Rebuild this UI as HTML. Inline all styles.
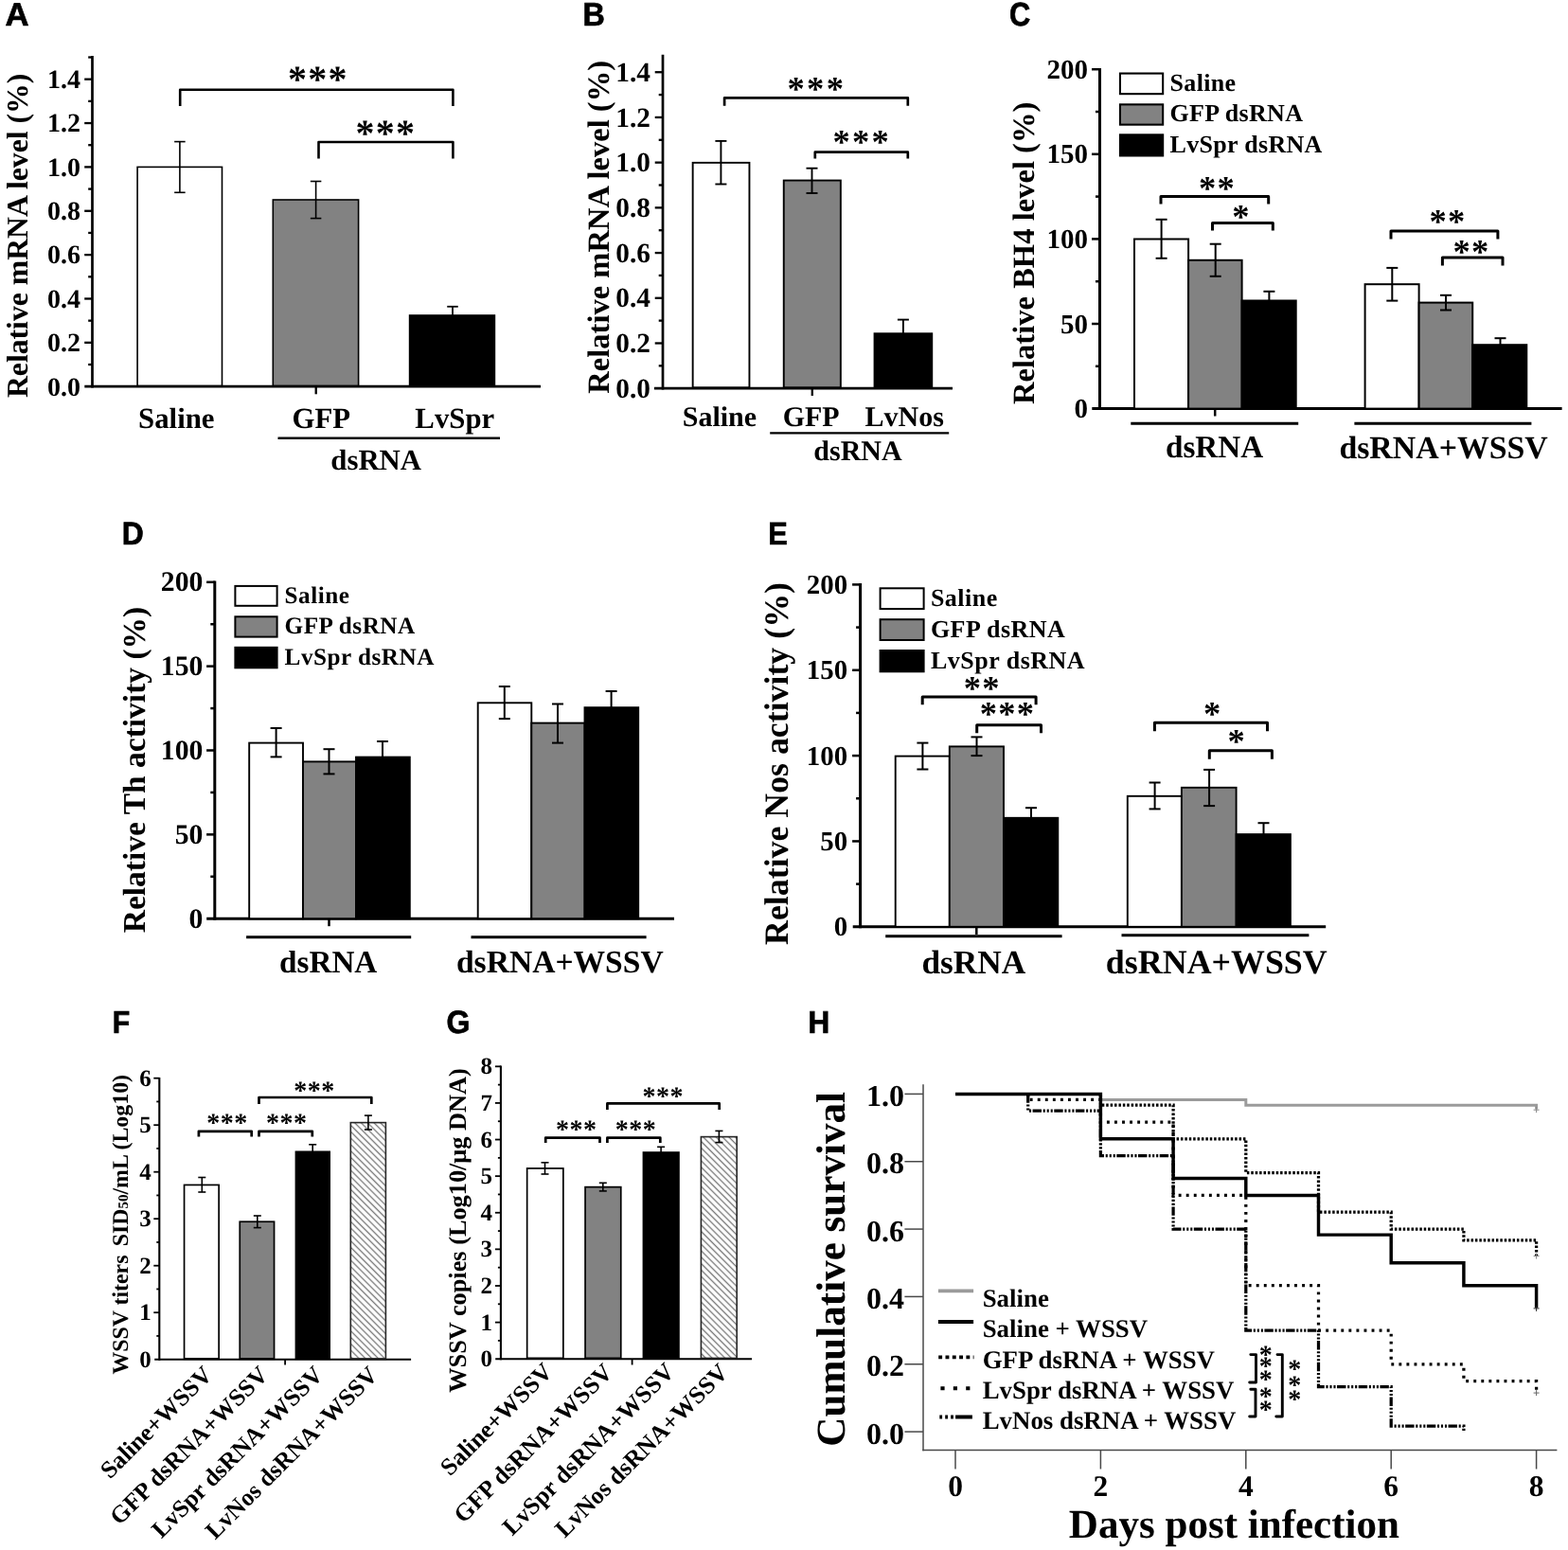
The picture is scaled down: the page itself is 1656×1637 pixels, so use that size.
<!DOCTYPE html>
<html lang="en">
<head>
<meta charset="utf-8">
<title>Figure: LvSpr / LvNos dsRNA knockdown and WSSV infection</title>
<style>
html,body{margin:0;padding:0;background:#fff;}
body{width:1656px;height:1637px;overflow:hidden;}
svg{display:block;}
text{fill:#000;text-rendering:geometricPrecision;}
.ser{font-family:"Liberation Serif","DejaVu Serif",serif;font-weight:bold;}
.sr{font-family:"Liberation Serif","DejaVu Serif",serif;font-weight:bold;}
.san{font-family:"Liberation Sans","DejaVu Sans",sans-serif;font-weight:bold;}
</style>
</head>
<body>
<svg width="1656" height="1637" viewBox="0 0 1656 1637" role="img" aria-label="Eight-panel figure (A-H): relative mRNA levels, BH4 level, Th and Nos activity, WSSV titers and copies, and cumulative survival after dsRNA treatment">
<defs>
<pattern id="hat" width="4.8" height="4.8" patternUnits="userSpaceOnUse" patternTransform="rotate(45)">
<rect width="4.8" height="4.8" fill="#fff"/>
<line x1="0" y1="2.4" x2="4.8" y2="2.4" stroke="#757575" stroke-width="1.3"/>
</pattern>
</defs>
<rect x="0" y="0" width="1656" height="1637" fill="#fff"/>
<text class="san" font-size="34.45" stroke="#000" stroke-width="0.7" stroke-linejoin="miter" transform="translate(5.58 27.25) scale(1.0080 1)">A</text>
<line x1="97.5" y1="59" x2="97.5" y2="409.55" stroke="#000" stroke-width="2.7"/>
<line x1="89.2" y1="361.84" x2="97.5" y2="361.84" stroke="#000" stroke-width="2.3"/>
<line x1="89.2" y1="315.48" x2="97.5" y2="315.48" stroke="#000" stroke-width="2.3"/>
<line x1="89.2" y1="269.12" x2="97.5" y2="269.12" stroke="#000" stroke-width="2.3"/>
<line x1="89.2" y1="222.76" x2="97.5" y2="222.76" stroke="#000" stroke-width="2.3"/>
<line x1="89.2" y1="176.4" x2="97.5" y2="176.4" stroke="#000" stroke-width="2.3"/>
<line x1="89.2" y1="130.04" x2="97.5" y2="130.04" stroke="#000" stroke-width="2.3"/>
<line x1="89.2" y1="83.68" x2="97.5" y2="83.68" stroke="#000" stroke-width="2.3"/>
<line x1="93.2" y1="385.02" x2="97.5" y2="385.02" stroke="#000" stroke-width="2.3"/>
<line x1="93.2" y1="338.66" x2="97.5" y2="338.66" stroke="#000" stroke-width="2.3"/>
<line x1="93.2" y1="292.3" x2="97.5" y2="292.3" stroke="#000" stroke-width="2.3"/>
<line x1="93.2" y1="245.94" x2="97.5" y2="245.94" stroke="#000" stroke-width="2.3"/>
<line x1="93.2" y1="199.58" x2="97.5" y2="199.58" stroke="#000" stroke-width="2.3"/>
<line x1="93.2" y1="153.22" x2="97.5" y2="153.22" stroke="#000" stroke-width="2.3"/>
<line x1="93.2" y1="106.86" x2="97.5" y2="106.86" stroke="#000" stroke-width="2.3"/>
<line x1="93.2" y1="60.5" x2="97.5" y2="60.5" stroke="#000" stroke-width="2.3"/>
<line x1="89.3" y1="408.2" x2="571" y2="408.2" stroke="#000" stroke-width="2.7"/>
<line x1="333.7" y1="408.2" x2="333.7" y2="416.3" stroke="#000" stroke-width="2.3"/>
<text class="ser" x="85" y="417.5" font-size="28" text-anchor="end">0.0</text>
<text class="ser" x="85" y="371.14" font-size="28" text-anchor="end">0.2</text>
<text class="ser" x="85" y="324.78" font-size="28" text-anchor="end">0.4</text>
<text class="ser" x="85" y="278.42" font-size="28" text-anchor="end">0.6</text>
<text class="ser" x="85" y="232.06" font-size="28" text-anchor="end">0.8</text>
<text class="ser" x="85" y="185.7" font-size="28" text-anchor="end">1.0</text>
<text class="ser" x="85" y="139.34" font-size="28" text-anchor="end">1.2</text>
<text class="ser" x="85" y="92.98" font-size="28" text-anchor="end">1.4</text>
<text class="ser" x="29.5" y="248.9" font-size="31.7" text-anchor="middle" transform="rotate(-90 29.5 248.9)">Relative mRNA level (%)</text>
<rect x="145.1" y="176.4" width="89.4" height="231" fill="#fff" stroke="#000" stroke-width="1.6"/>
<rect x="288.3" y="211" width="90.3" height="196.4" fill="#828282" stroke="#000" stroke-width="1.6"/>
<rect x="432.6" y="333" width="89.8" height="74.4" fill="#000" stroke="#000" stroke-width="1.6"/>
<line x1="189.9" y1="149.6" x2="189.9" y2="203.3" stroke="#000" stroke-width="1.6"/>
<line x1="184.15" y1="149.6" x2="195.65" y2="149.6" stroke="#000" stroke-width="1.6"/>
<line x1="184.15" y1="203.3" x2="195.65" y2="203.3" stroke="#000" stroke-width="1.6"/>
<line x1="333.6" y1="191.5" x2="333.6" y2="230.6" stroke="#000" stroke-width="1.6"/>
<line x1="327.85" y1="191.5" x2="339.35" y2="191.5" stroke="#000" stroke-width="1.6"/>
<line x1="327.85" y1="230.6" x2="339.35" y2="230.6" stroke="#000" stroke-width="1.6"/>
<line x1="478" y1="323.8" x2="478" y2="333" stroke="#000" stroke-width="1.8"/>
<line x1="472.25" y1="323.8" x2="483.75" y2="323.8" stroke="#000" stroke-width="1.8"/>
<path d="M190.2 112 V94.7 H478.4 V112" fill="none" stroke="#000" stroke-width="2.6" stroke-linejoin="round"/>
<path d="M336.5 167.4 V150 H478.4 V167.4" fill="none" stroke="#000" stroke-width="2.6" stroke-linejoin="round"/>
<text class="sr" x="304" y="97.38" font-size="40" letter-spacing="1.3">***</text>
<text class="sr" x="375.5" y="154.18" font-size="40" letter-spacing="1.3">***</text>
<text class="ser" x="186.3" y="451.7" font-size="30.8" text-anchor="middle">Saline</text>
<text class="ser" x="339.3" y="451.7" font-size="30.8" text-anchor="middle">GFP</text>
<text class="ser" x="480.3" y="451.7" font-size="30.8" text-anchor="middle">LvSpr</text>
<line x1="293.5" y1="462.8" x2="528" y2="462.8" stroke="#000" stroke-width="2.4"/>
<text class="ser" x="397.2" y="495.8" font-size="30.8" text-anchor="middle">dsRNA</text>
<text class="san" font-size="34.59" stroke="#000" stroke-width="0.7" stroke-linejoin="miter" transform="translate(615.39 27.35) scale(0.9336 1)">B</text>
<line x1="700" y1="57.8" x2="700" y2="411.55" stroke="#000" stroke-width="2.7"/>
<line x1="691.7" y1="362.49" x2="700" y2="362.49" stroke="#000" stroke-width="2.3"/>
<line x1="691.7" y1="314.78" x2="700" y2="314.78" stroke="#000" stroke-width="2.3"/>
<line x1="691.7" y1="267.07" x2="700" y2="267.07" stroke="#000" stroke-width="2.3"/>
<line x1="691.7" y1="219.36" x2="700" y2="219.36" stroke="#000" stroke-width="2.3"/>
<line x1="691.7" y1="171.65" x2="700" y2="171.65" stroke="#000" stroke-width="2.3"/>
<line x1="691.7" y1="123.94" x2="700" y2="123.94" stroke="#000" stroke-width="2.3"/>
<line x1="691.7" y1="76.23" x2="700" y2="76.23" stroke="#000" stroke-width="2.3"/>
<line x1="695.7" y1="386.34" x2="700" y2="386.34" stroke="#000" stroke-width="2.3"/>
<line x1="695.7" y1="338.63" x2="700" y2="338.63" stroke="#000" stroke-width="2.3"/>
<line x1="695.7" y1="290.92" x2="700" y2="290.92" stroke="#000" stroke-width="2.3"/>
<line x1="695.7" y1="243.21" x2="700" y2="243.21" stroke="#000" stroke-width="2.3"/>
<line x1="695.7" y1="195.5" x2="700" y2="195.5" stroke="#000" stroke-width="2.3"/>
<line x1="695.7" y1="147.79" x2="700" y2="147.79" stroke="#000" stroke-width="2.3"/>
<line x1="695.7" y1="100.08" x2="700" y2="100.08" stroke="#000" stroke-width="2.3"/>
<line x1="690.9" y1="410.2" x2="1006" y2="410.2" stroke="#000" stroke-width="2.7"/>
<line x1="857.8" y1="410.2" x2="857.8" y2="418" stroke="#000" stroke-width="2.3"/>
<text class="ser" x="686.9" y="419.8" font-size="29.3" text-anchor="end">0.0</text>
<text class="ser" x="686.9" y="372.09" font-size="29.3" text-anchor="end">0.2</text>
<text class="ser" x="686.9" y="324.38" font-size="29.3" text-anchor="end">0.4</text>
<text class="ser" x="686.9" y="276.67" font-size="29.3" text-anchor="end">0.6</text>
<text class="ser" x="686.9" y="228.96" font-size="29.3" text-anchor="end">0.8</text>
<text class="ser" x="686.9" y="181.25" font-size="29.3" text-anchor="end">1.0</text>
<text class="ser" x="686.9" y="133.54" font-size="29.3" text-anchor="end">1.2</text>
<text class="ser" x="686.9" y="85.83" font-size="29.3" text-anchor="end">1.4</text>
<text class="ser" x="642.6" y="239.8" font-size="32.6" text-anchor="middle" transform="rotate(-90 642.6 239.8)">Relative mRNA level (%)</text>
<rect x="731.65" y="171.85" width="59.8" height="237.4" fill="#fff" stroke="#000" stroke-width="1.9"/>
<rect x="827.75" y="190.55" width="60.1" height="218.7" fill="#828282" stroke="#000" stroke-width="1.9"/>
<rect x="923.55" y="352.25" width="60.7" height="57" fill="#000" stroke="#000" stroke-width="1.9"/>
<line x1="761.4" y1="148.9" x2="761.4" y2="194.5" stroke="#000" stroke-width="1.9"/>
<line x1="755.4" y1="148.9" x2="767.4" y2="148.9" stroke="#000" stroke-width="1.9"/>
<line x1="755.4" y1="194.5" x2="767.4" y2="194.5" stroke="#000" stroke-width="1.9"/>
<line x1="857.5" y1="177.7" x2="857.5" y2="204" stroke="#000" stroke-width="1.9"/>
<line x1="851.5" y1="177.7" x2="863.5" y2="177.7" stroke="#000" stroke-width="1.9"/>
<line x1="851.5" y1="204" x2="863.5" y2="204" stroke="#000" stroke-width="1.9"/>
<line x1="953.9" y1="337.6" x2="953.9" y2="352" stroke="#000" stroke-width="1.9"/>
<line x1="947.9" y1="337.6" x2="959.9" y2="337.6" stroke="#000" stroke-width="1.9"/>
<path d="M765.1 111.8 V103.4 H958.8 V111.8" fill="none" stroke="#000" stroke-width="2.7" stroke-linejoin="round"/>
<path d="M860.8 167.5 V160.7 H958.8 V167.5" fill="none" stroke="#000" stroke-width="2.7" stroke-linejoin="round"/>
<text class="sr" x="831.48" y="105.66" font-size="36.5" letter-spacing="2.35">***</text>
<text class="sr" x="879.38" y="161.56" font-size="36.5" letter-spacing="2.35">***</text>
<text class="ser" x="759.9" y="449.5" font-size="30" text-anchor="middle">Saline</text>
<text class="ser" x="856.7" y="449.5" font-size="30" text-anchor="middle">GFP</text>
<text class="ser" x="955.2" y="449.5" font-size="30" text-anchor="middle">LvNos</text>
<line x1="813.2" y1="457.4" x2="1002.2" y2="457.4" stroke="#000" stroke-width="2.4"/>
<text class="ser" x="906" y="486" font-size="30" text-anchor="middle">dsRNA</text>
<text class="san" font-size="34.89" stroke="#000" stroke-width="0.7" stroke-linejoin="miter" transform="translate(1066.08 27.2) scale(0.8853 1)">C</text>
<line x1="1161.5" y1="72" x2="1161.5" y2="433.1" stroke="#000" stroke-width="3"/>
<line x1="1153" y1="342" x2="1161.5" y2="342" stroke="#000" stroke-width="2.5"/>
<line x1="1153" y1="252.4" x2="1161.5" y2="252.4" stroke="#000" stroke-width="2.5"/>
<line x1="1153" y1="162.8" x2="1161.5" y2="162.8" stroke="#000" stroke-width="2.5"/>
<line x1="1153" y1="73.2" x2="1161.5" y2="73.2" stroke="#000" stroke-width="2.5"/>
<line x1="1157" y1="386.8" x2="1161.5" y2="386.8" stroke="#000" stroke-width="2.5"/>
<line x1="1157" y1="297.2" x2="1161.5" y2="297.2" stroke="#000" stroke-width="2.5"/>
<line x1="1157" y1="207.6" x2="1161.5" y2="207.6" stroke="#000" stroke-width="2.5"/>
<line x1="1157" y1="118" x2="1161.5" y2="118" stroke="#000" stroke-width="2.5"/>
<line x1="1153.3" y1="431.6" x2="1649.6" y2="431.6" stroke="#000" stroke-width="3"/>
<line x1="1283.2" y1="431.6" x2="1283.2" y2="439.5" stroke="#000" stroke-width="2.5"/>
<text class="ser" x="1149" y="441.1" font-size="29" text-anchor="end">0</text>
<text class="ser" x="1149" y="351.5" font-size="29" text-anchor="end">50</text>
<text class="ser" x="1149" y="261.9" font-size="29" text-anchor="end">100</text>
<text class="ser" x="1149" y="172.3" font-size="29" text-anchor="end">150</text>
<text class="ser" x="1149" y="82.7" font-size="29" text-anchor="end">200</text>
<text class="ser" x="1092" y="267.3" font-size="32.6" text-anchor="middle" transform="rotate(-90 1092 267.3)">Relative BH4 level (%)</text>
<rect x="1198" y="252.5" width="57.1" height="179.1" fill="#fff" stroke="#000" stroke-width="2"/>
<rect x="1255.1" y="274.8" width="56.5" height="156.8" fill="#828282" stroke="#000" stroke-width="2"/>
<rect x="1311.6" y="317.5" width="57.1" height="114.1" fill="#000" stroke="#000" stroke-width="2"/>
<rect x="1441.6" y="300.2" width="57" height="131.4" fill="#fff" stroke="#000" stroke-width="2"/>
<rect x="1498.6" y="319.6" width="56.6" height="112" fill="#828282" stroke="#000" stroke-width="2"/>
<rect x="1555.2" y="364.2" width="57.1" height="67.4" fill="#000" stroke="#000" stroke-width="2"/>
<line x1="1226.6" y1="231.8" x2="1226.6" y2="272.8" stroke="#000" stroke-width="2"/>
<line x1="1220.6" y1="231.8" x2="1232.6" y2="231.8" stroke="#000" stroke-width="2"/>
<line x1="1220.6" y1="272.8" x2="1232.6" y2="272.8" stroke="#000" stroke-width="2"/>
<line x1="1283.7" y1="257.7" x2="1283.7" y2="291.8" stroke="#000" stroke-width="2"/>
<line x1="1277.7" y1="257.7" x2="1289.7" y2="257.7" stroke="#000" stroke-width="2"/>
<line x1="1277.7" y1="291.8" x2="1289.7" y2="291.8" stroke="#000" stroke-width="2"/>
<line x1="1340.4" y1="307.8" x2="1340.4" y2="318" stroke="#000" stroke-width="2"/>
<line x1="1334.4" y1="307.8" x2="1346.4" y2="307.8" stroke="#000" stroke-width="2"/>
<line x1="1470.3" y1="282.9" x2="1470.3" y2="317.6" stroke="#000" stroke-width="2"/>
<line x1="1464.3" y1="282.9" x2="1476.3" y2="282.9" stroke="#000" stroke-width="2"/>
<line x1="1464.3" y1="317.6" x2="1476.3" y2="317.6" stroke="#000" stroke-width="2"/>
<line x1="1527" y1="311.8" x2="1527" y2="327.5" stroke="#000" stroke-width="2"/>
<line x1="1521" y1="311.8" x2="1533" y2="311.8" stroke="#000" stroke-width="2"/>
<line x1="1521" y1="327.5" x2="1533" y2="327.5" stroke="#000" stroke-width="2"/>
<line x1="1584.5" y1="357.2" x2="1584.5" y2="365" stroke="#000" stroke-width="2"/>
<line x1="1578.5" y1="357.2" x2="1590.5" y2="357.2" stroke="#000" stroke-width="2"/>
<path d="M1226 215.6 V207.4 H1339.7 V215.6" fill="none" stroke="#000" stroke-width="3" stroke-linejoin="round"/>
<path d="M1280.5 243.6 V235.5 H1344.3 V243.6" fill="none" stroke="#000" stroke-width="3" stroke-linejoin="round"/>
<path d="M1469 252.4 V244.1 H1581.9 V252.4" fill="none" stroke="#000" stroke-width="3" stroke-linejoin="round"/>
<path d="M1523.4 280.4 V272 H1587 V280.4" fill="none" stroke="#000" stroke-width="3" stroke-linejoin="round"/>
<text class="sr" x="1266.12" y="211.16" font-size="36.5" letter-spacing="1.25">**</text>
<text class="sr" x="1301.17" y="240.86" font-size="36.5">*</text>
<text class="sr" x="1509.62" y="246.46" font-size="36.5" letter-spacing="1.25">**</text>
<text class="sr" x="1534.53" y="278.16" font-size="36.5" letter-spacing="1.25">**</text>
<rect x="1182.95" y="77.55" width="45.2" height="21.6" fill="#fff" stroke="#000" stroke-width="2.1"/>
<rect x="1182.95" y="110.35" width="45.2" height="21.3" fill="#828282" stroke="#000" stroke-width="2.1"/>
<rect x="1182.95" y="142.35" width="45.2" height="22.1" fill="#000" stroke="#000" stroke-width="2.1"/>
<text class="ser" x="1235.6" y="95.9" font-size="26" letter-spacing="0.3">Saline</text>
<text class="ser" x="1235.6" y="128.1" font-size="26" letter-spacing="0.3">GFP dsRNA</text>
<text class="ser" x="1235.6" y="161" font-size="26" letter-spacing="0.3">LvSpr dsRNA</text>
<line x1="1194.3" y1="447.2" x2="1371.2" y2="447.2" stroke="#000" stroke-width="3"/>
<line x1="1430.4" y1="447.2" x2="1617.4" y2="447.2" stroke="#000" stroke-width="3"/>
<text class="ser" x="1282.6" y="483" font-size="33.2" text-anchor="middle">dsRNA</text>
<text class="ser" x="1524.6" y="483.5" font-size="33.85" text-anchor="middle">dsRNA+WSSV</text>
<text class="san" font-size="33.87" stroke="#000" stroke-width="0.7" stroke-linejoin="miter" transform="translate(128.82 575.25) scale(0.9393 1)">D</text>
<line x1="226.8" y1="613.6" x2="226.8" y2="971.7" stroke="#000" stroke-width="3"/>
<line x1="218.1" y1="881.35" x2="226.8" y2="881.35" stroke="#000" stroke-width="2.5"/>
<line x1="218.1" y1="792.5" x2="226.8" y2="792.5" stroke="#000" stroke-width="2.5"/>
<line x1="218.1" y1="703.65" x2="226.8" y2="703.65" stroke="#000" stroke-width="2.5"/>
<line x1="218.1" y1="614.8" x2="226.8" y2="614.8" stroke="#000" stroke-width="2.5"/>
<line x1="222.3" y1="925.78" x2="226.8" y2="925.78" stroke="#000" stroke-width="2.5"/>
<line x1="222.3" y1="836.93" x2="226.8" y2="836.93" stroke="#000" stroke-width="2.5"/>
<line x1="222.3" y1="748.08" x2="226.8" y2="748.08" stroke="#000" stroke-width="2.5"/>
<line x1="222.3" y1="659.23" x2="226.8" y2="659.23" stroke="#000" stroke-width="2.5"/>
<line x1="218.2" y1="970.2" x2="712" y2="970.2" stroke="#000" stroke-width="3"/>
<line x1="347.5" y1="970.2" x2="347.5" y2="978.2" stroke="#000" stroke-width="2.5"/>
<text class="ser" x="214.4" y="979.5" font-size="29.7" text-anchor="end">0</text>
<text class="ser" x="214.4" y="890.65" font-size="29.7" text-anchor="end">50</text>
<text class="ser" x="214.4" y="801.8" font-size="29.7" text-anchor="end">100</text>
<text class="ser" x="214.4" y="712.95" font-size="29.7" text-anchor="end">150</text>
<text class="ser" x="214.4" y="624.1" font-size="29.7" text-anchor="end">200</text>
<text class="ser" x="152.5" y="813" font-size="33.5" text-anchor="middle" transform="rotate(-90 152.5 813)">Relative Th activity (%)</text>
<rect x="263.2" y="784.6" width="56.8" height="185.6" fill="#fff" stroke="#000" stroke-width="1.9"/>
<rect x="320" y="804.4" width="56" height="165.8" fill="#828282" stroke="#000" stroke-width="1.9"/>
<rect x="376" y="799.6" width="56.8" height="170.6" fill="#000" stroke="#000" stroke-width="1.9"/>
<rect x="504.7" y="742.3" width="56.6" height="227.9" fill="#fff" stroke="#000" stroke-width="1.9"/>
<rect x="561.3" y="763.6" width="56.2" height="206.6" fill="#828282" stroke="#000" stroke-width="1.9"/>
<rect x="617.5" y="747.2" width="56.7" height="223" fill="#000" stroke="#000" stroke-width="1.9"/>
<line x1="291.6" y1="769" x2="291.6" y2="799.4" stroke="#000" stroke-width="2"/>
<line x1="285.6" y1="769" x2="297.6" y2="769" stroke="#000" stroke-width="2"/>
<line x1="285.6" y1="799.4" x2="297.6" y2="799.4" stroke="#000" stroke-width="2"/>
<line x1="347.5" y1="791.2" x2="347.5" y2="817.4" stroke="#000" stroke-width="2"/>
<line x1="341.5" y1="791.2" x2="353.5" y2="791.2" stroke="#000" stroke-width="2"/>
<line x1="341.5" y1="817.4" x2="353.5" y2="817.4" stroke="#000" stroke-width="2"/>
<line x1="404" y1="783" x2="404" y2="800" stroke="#000" stroke-width="2"/>
<line x1="398" y1="783" x2="410" y2="783" stroke="#000" stroke-width="2"/>
<line x1="532.8" y1="725" x2="532.8" y2="759.1" stroke="#000" stroke-width="2"/>
<line x1="526.8" y1="725" x2="538.8" y2="725" stroke="#000" stroke-width="2"/>
<line x1="526.8" y1="759.1" x2="538.8" y2="759.1" stroke="#000" stroke-width="2"/>
<line x1="589" y1="743.5" x2="589" y2="784.6" stroke="#000" stroke-width="2"/>
<line x1="583" y1="743.5" x2="595" y2="743.5" stroke="#000" stroke-width="2"/>
<line x1="583" y1="784.6" x2="595" y2="784.6" stroke="#000" stroke-width="2"/>
<line x1="645.6" y1="730" x2="645.6" y2="748" stroke="#000" stroke-width="2"/>
<line x1="639.6" y1="730" x2="651.6" y2="730" stroke="#000" stroke-width="2"/>
<rect x="248.4" y="618.9" width="44.2" height="20.9" fill="#fff" stroke="#000" stroke-width="2"/>
<rect x="248.4" y="651.3" width="44.2" height="21.3" fill="#828282" stroke="#000" stroke-width="2"/>
<rect x="248.4" y="683.8" width="44.2" height="21.5" fill="#000" stroke="#000" stroke-width="2"/>
<text class="ser" x="300.6" y="636.8" font-size="25.2" letter-spacing="0.5">Saline</text>
<text class="ser" x="300.6" y="668.8" font-size="25.2" letter-spacing="0.5">GFP dsRNA</text>
<text class="ser" x="300.6" y="701.6" font-size="25.2" letter-spacing="0.5">LvSpr dsRNA</text>
<line x1="260.1" y1="989.8" x2="434.2" y2="989.8" stroke="#000" stroke-width="3"/>
<line x1="497.5" y1="989.8" x2="682.6" y2="989.8" stroke="#000" stroke-width="3"/>
<text class="ser" x="346.7" y="1026.8" font-size="33.2" text-anchor="middle">dsRNA</text>
<text class="ser" x="591.3" y="1026.8" font-size="33.6" text-anchor="middle">dsRNA+WSSV</text>
<text class="san" font-size="33.58" stroke="#000" stroke-width="0.7" stroke-linejoin="miter" transform="translate(811.28 575.25) scale(0.9185 1)">E</text>
<line x1="908.6" y1="616" x2="908.6" y2="980.3" stroke="#000" stroke-width="3"/>
<line x1="900.1" y1="888.45" x2="908.6" y2="888.45" stroke="#000" stroke-width="2.5"/>
<line x1="900.1" y1="798.1" x2="908.6" y2="798.1" stroke="#000" stroke-width="2.5"/>
<line x1="900.1" y1="707.75" x2="908.6" y2="707.75" stroke="#000" stroke-width="2.5"/>
<line x1="900.1" y1="617.4" x2="908.6" y2="617.4" stroke="#000" stroke-width="2.5"/>
<line x1="904.1" y1="933.62" x2="908.6" y2="933.62" stroke="#000" stroke-width="2.5"/>
<line x1="904.1" y1="843.27" x2="908.6" y2="843.27" stroke="#000" stroke-width="2.5"/>
<line x1="904.1" y1="752.92" x2="908.6" y2="752.92" stroke="#000" stroke-width="2.5"/>
<line x1="904.1" y1="662.58" x2="908.6" y2="662.58" stroke="#000" stroke-width="2.5"/>
<line x1="900.7" y1="978.8" x2="1400.2" y2="978.8" stroke="#000" stroke-width="3"/>
<line x1="1031.3" y1="978.8" x2="1031.3" y2="987" stroke="#000" stroke-width="2.5"/>
<text class="ser" x="895.2" y="988.3" font-size="28.9" text-anchor="end">0</text>
<text class="ser" x="895.2" y="897.95" font-size="28.9" text-anchor="end">50</text>
<text class="ser" x="895.2" y="807.6" font-size="28.9" text-anchor="end">100</text>
<text class="ser" x="895.2" y="717.25" font-size="28.9" text-anchor="end">150</text>
<text class="ser" x="895.2" y="626.9" font-size="28.9" text-anchor="end">200</text>
<text class="ser" x="832" y="806.5" font-size="35.8" text-anchor="middle" transform="rotate(-90 832 806.5)">Relative Nos activity (%)</text>
<rect x="945.7" y="798.6" width="57.1" height="180.2" fill="#fff" stroke="#000" stroke-width="1.9"/>
<rect x="1002.8" y="788.4" width="57.2" height="190.4" fill="#828282" stroke="#000" stroke-width="1.9"/>
<rect x="1060" y="863.8" width="57.3" height="115" fill="#000" stroke="#000" stroke-width="1.9"/>
<rect x="1190.8" y="840.8" width="57.1" height="138" fill="#fff" stroke="#000" stroke-width="1.9"/>
<rect x="1247.9" y="831.8" width="57.7" height="147" fill="#828282" stroke="#000" stroke-width="1.9"/>
<rect x="1305.6" y="881.1" width="57.3" height="97.7" fill="#000" stroke="#000" stroke-width="1.9"/>
<line x1="974.4" y1="784.6" x2="974.4" y2="812.5" stroke="#000" stroke-width="2"/>
<line x1="968.4" y1="784.6" x2="980.4" y2="784.6" stroke="#000" stroke-width="2"/>
<line x1="968.4" y1="812.5" x2="980.4" y2="812.5" stroke="#000" stroke-width="2"/>
<line x1="1031.5" y1="778.4" x2="1031.5" y2="798.1" stroke="#000" stroke-width="2"/>
<line x1="1025.5" y1="778.4" x2="1037.5" y2="778.4" stroke="#000" stroke-width="2"/>
<line x1="1025.5" y1="798.1" x2="1037.5" y2="798.1" stroke="#000" stroke-width="2"/>
<line x1="1089" y1="853.2" x2="1089" y2="864" stroke="#000" stroke-width="2"/>
<line x1="1083" y1="853.2" x2="1095" y2="853.2" stroke="#000" stroke-width="2"/>
<line x1="1219.6" y1="826.5" x2="1219.6" y2="854.4" stroke="#000" stroke-width="2"/>
<line x1="1213.6" y1="826.5" x2="1225.6" y2="826.5" stroke="#000" stroke-width="2"/>
<line x1="1213.6" y1="854.4" x2="1225.6" y2="854.4" stroke="#000" stroke-width="2"/>
<line x1="1277.1" y1="812.9" x2="1277.1" y2="851.1" stroke="#000" stroke-width="2"/>
<line x1="1271.1" y1="812.9" x2="1283.1" y2="812.9" stroke="#000" stroke-width="2"/>
<line x1="1271.1" y1="851.1" x2="1283.1" y2="851.1" stroke="#000" stroke-width="2"/>
<line x1="1334.5" y1="869.2" x2="1334.5" y2="882" stroke="#000" stroke-width="2"/>
<line x1="1328.5" y1="869.2" x2="1340.5" y2="869.2" stroke="#000" stroke-width="2"/>
<path d="M974.2 744.3 V736.1 H1094.1 V744.3" fill="none" stroke="#000" stroke-width="3" stroke-linejoin="round"/>
<path d="M1031.7 774.3 V765.7 H1099.5 V774.3" fill="none" stroke="#000" stroke-width="3" stroke-linejoin="round"/>
<path d="M1219.4 772.3 V763.2 H1338.5 V772.3" fill="none" stroke="#000" stroke-width="3" stroke-linejoin="round"/>
<path d="M1277.3 801.8 V792.8 H1343.4 V801.8" fill="none" stroke="#000" stroke-width="3" stroke-linejoin="round"/>
<text class="sr" x="1017.72" y="739.16" font-size="36.5" letter-spacing="1.25">**</text>
<text class="sr" x="1034.67" y="766.46" font-size="36.5" letter-spacing="1.25">***</text>
<text class="sr" x="1271.08" y="765.86" font-size="36.5">*</text>
<text class="sr" x="1296.47" y="794.56" font-size="36.5">*</text>
<rect x="929.6" y="621.3" width="46" height="21.8" fill="#fff" stroke="#000" stroke-width="2"/>
<rect x="929.6" y="654.2" width="46" height="21.8" fill="#828282" stroke="#000" stroke-width="2"/>
<rect x="929.6" y="687" width="46" height="22.3" fill="#000" stroke="#000" stroke-width="2"/>
<text class="ser" x="982.9" y="640" font-size="26" letter-spacing="0.5">Saline</text>
<text class="ser" x="982.9" y="672.5" font-size="26" letter-spacing="0.5">GFP dsRNA</text>
<text class="ser" x="982.9" y="705.7" font-size="26" letter-spacing="0.5">LvSpr dsRNA</text>
<line x1="935.2" y1="988.7" x2="1121.6" y2="988.7" stroke="#000" stroke-width="3"/>
<line x1="1184.5" y1="987.8" x2="1382.4" y2="987.8" stroke="#000" stroke-width="3"/>
<text class="ser" x="1028.4" y="1027.7" font-size="35.3" text-anchor="middle">dsRNA</text>
<text class="ser" x="1284.8" y="1027.7" font-size="35.9" text-anchor="middle">dsRNA+WSSV</text>
<text class="san" font-size="33.28" stroke="#000" stroke-width="0.7" stroke-linejoin="miter" transform="translate(118.67 1091.25) scale(0.9096 1)">F</text>
<line x1="168.3" y1="1138" x2="168.3" y2="1436.75" stroke="#000" stroke-width="2.1"/>
<line x1="162.3" y1="1386.2" x2="168.3" y2="1386.2" stroke="#000" stroke-width="1.8"/>
<line x1="162.3" y1="1336.7" x2="168.3" y2="1336.7" stroke="#000" stroke-width="1.8"/>
<line x1="162.3" y1="1287.2" x2="168.3" y2="1287.2" stroke="#000" stroke-width="1.8"/>
<line x1="162.3" y1="1237.7" x2="168.3" y2="1237.7" stroke="#000" stroke-width="1.8"/>
<line x1="162.3" y1="1188.2" x2="168.3" y2="1188.2" stroke="#000" stroke-width="1.8"/>
<line x1="162.3" y1="1138.7" x2="168.3" y2="1138.7" stroke="#000" stroke-width="1.8"/>
<line x1="165.3" y1="1410.95" x2="168.3" y2="1410.95" stroke="#000" stroke-width="1.8"/>
<line x1="165.3" y1="1361.45" x2="168.3" y2="1361.45" stroke="#000" stroke-width="1.8"/>
<line x1="165.3" y1="1311.95" x2="168.3" y2="1311.95" stroke="#000" stroke-width="1.8"/>
<line x1="165.3" y1="1262.45" x2="168.3" y2="1262.45" stroke="#000" stroke-width="1.8"/>
<line x1="165.3" y1="1212.95" x2="168.3" y2="1212.95" stroke="#000" stroke-width="1.8"/>
<line x1="165.3" y1="1163.45" x2="168.3" y2="1163.45" stroke="#000" stroke-width="1.8"/>
<line x1="163.2" y1="1435.7" x2="434.1" y2="1435.7" stroke="#000" stroke-width="2.1"/>
<line x1="301.1" y1="1435.7" x2="301.1" y2="1441.5" stroke="#000" stroke-width="1.8"/>
<text class="ser" x="159.8" y="1443.7" font-size="25" text-anchor="end">0</text>
<text class="ser" x="159.8" y="1394.2" font-size="25" text-anchor="end">1</text>
<text class="ser" x="159.8" y="1344.7" font-size="25" text-anchor="end">2</text>
<text class="ser" x="159.8" y="1295.2" font-size="25" text-anchor="end">3</text>
<text class="ser" x="159.8" y="1245.7" font-size="25" text-anchor="end">4</text>
<text class="ser" x="159.8" y="1196.2" font-size="25" text-anchor="end">5</text>
<text class="ser" x="159.8" y="1146.7" font-size="25" text-anchor="end">6</text>
<text class="ser" font-size="23.85" text-anchor="middle" transform="rotate(-90 135.5 1293.3)" x="135.5" y="1293.3">WSSV titers <tspan dx="3.3">SID</tspan><tspan font-size="15">50</tspan>/mL (Log10)</text>
<rect x="194.55" y="1251.45" width="36.6" height="183.4" fill="#fff" stroke="#000" stroke-width="1.7"/>
<rect x="253.25" y="1290.25" width="36.3" height="144.6" fill="#828282" stroke="#000" stroke-width="1.7"/>
<rect x="312.45" y="1216.35" width="35.7" height="218.5" fill="#000" stroke="#000" stroke-width="1.7"/>
<rect x="370.3" y="1185.6" width="37.1" height="249.3" fill="url(#hat)" stroke="#262626" stroke-width="1.6"/>
<line x1="213.3" y1="1243.5" x2="213.3" y2="1259" stroke="#000" stroke-width="1.6"/>
<line x1="209.3" y1="1243.5" x2="217.3" y2="1243.5" stroke="#000" stroke-width="1.6"/>
<line x1="209.3" y1="1259" x2="217.3" y2="1259" stroke="#000" stroke-width="1.6"/>
<line x1="271.8" y1="1284" x2="271.8" y2="1296.6" stroke="#000" stroke-width="1.6"/>
<line x1="267.8" y1="1284" x2="275.8" y2="1284" stroke="#000" stroke-width="1.6"/>
<line x1="267.8" y1="1296.6" x2="275.8" y2="1296.6" stroke="#000" stroke-width="1.6"/>
<line x1="330.2" y1="1208.8" x2="330.2" y2="1217" stroke="#000" stroke-width="1.6"/>
<line x1="326.2" y1="1208.8" x2="334.2" y2="1208.8" stroke="#000" stroke-width="1.6"/>
<line x1="388.9" y1="1178.1" x2="388.9" y2="1193" stroke="#000" stroke-width="1.6"/>
<line x1="384.9" y1="1178.1" x2="392.9" y2="1178.1" stroke="#000" stroke-width="1.6"/>
<line x1="384.9" y1="1193" x2="392.9" y2="1193" stroke="#000" stroke-width="1.6"/>
<path d="M209.9 1200.6 V1194.8 H265.7 V1200.6" fill="none" stroke="#000" stroke-width="2.7" stroke-linejoin="round"/>
<path d="M273.5 1200.6 V1194.8 H329.8 V1200.6" fill="none" stroke="#000" stroke-width="2.7" stroke-linejoin="round"/>
<path d="M273.5 1165.9 V1159 H392.3 V1165.9" fill="none" stroke="#000" stroke-width="2.7" stroke-linejoin="round"/>
<text class="sr" x="218.3" y="1195.24" font-size="28" letter-spacing="0.5">***</text>
<text class="sr" x="280.9" y="1195.24" font-size="28" letter-spacing="0.5">***</text>
<text class="sr" x="310.3" y="1161.44" font-size="28" letter-spacing="0.5">***</text>
<text class="ser" x="225.5" y="1453.5" font-size="25.7" text-anchor="end" transform="rotate(-45 225.5 1453.5)">Saline+WSSV</text>
<text class="ser" x="284.5" y="1453.5" font-size="25.7" text-anchor="end" transform="rotate(-45 284.5 1453.5)">GFP dsRNA+WSSV</text>
<text class="ser" x="342.5" y="1453.5" font-size="25.7" text-anchor="end" transform="rotate(-45 342.5 1453.5)">LvSpr dsRNA+WSSV</text>
<text class="ser" x="400.5" y="1453.5" font-size="25.7" text-anchor="end" transform="rotate(-45 400.5 1453.5)">LvNos dsRNA+WSSV</text>
<text class="san" font-size="33.9" stroke="#000" stroke-width="0.7" stroke-linejoin="miter" transform="translate(471.53 1091.31) scale(0.9484 1)">G</text>
<line x1="528.9" y1="1125.5" x2="528.9" y2="1436.25" stroke="#000" stroke-width="2.1"/>
<line x1="522.9" y1="1396.59" x2="528.9" y2="1396.59" stroke="#000" stroke-width="1.8"/>
<line x1="522.9" y1="1357.98" x2="528.9" y2="1357.98" stroke="#000" stroke-width="1.8"/>
<line x1="522.9" y1="1319.37" x2="528.9" y2="1319.37" stroke="#000" stroke-width="1.8"/>
<line x1="522.9" y1="1280.76" x2="528.9" y2="1280.76" stroke="#000" stroke-width="1.8"/>
<line x1="522.9" y1="1242.15" x2="528.9" y2="1242.15" stroke="#000" stroke-width="1.8"/>
<line x1="522.9" y1="1203.54" x2="528.9" y2="1203.54" stroke="#000" stroke-width="1.8"/>
<line x1="522.9" y1="1164.93" x2="528.9" y2="1164.93" stroke="#000" stroke-width="1.8"/>
<line x1="522.9" y1="1126.32" x2="528.9" y2="1126.32" stroke="#000" stroke-width="1.8"/>
<line x1="525.9" y1="1415.89" x2="528.9" y2="1415.89" stroke="#000" stroke-width="1.8"/>
<line x1="525.9" y1="1377.29" x2="528.9" y2="1377.29" stroke="#000" stroke-width="1.8"/>
<line x1="525.9" y1="1338.67" x2="528.9" y2="1338.67" stroke="#000" stroke-width="1.8"/>
<line x1="525.9" y1="1300.07" x2="528.9" y2="1300.07" stroke="#000" stroke-width="1.8"/>
<line x1="525.9" y1="1261.45" x2="528.9" y2="1261.45" stroke="#000" stroke-width="1.8"/>
<line x1="525.9" y1="1222.85" x2="528.9" y2="1222.85" stroke="#000" stroke-width="1.8"/>
<line x1="525.9" y1="1184.24" x2="528.9" y2="1184.24" stroke="#000" stroke-width="1.8"/>
<line x1="525.9" y1="1145.62" x2="528.9" y2="1145.62" stroke="#000" stroke-width="1.8"/>
<line x1="523.2" y1="1435.2" x2="794.1" y2="1435.2" stroke="#000" stroke-width="2.1"/>
<line x1="667.6" y1="1435.2" x2="667.6" y2="1441.5" stroke="#000" stroke-width="1.8"/>
<text class="ser" x="520" y="1443.2" font-size="25" text-anchor="end">0</text>
<text class="ser" x="520" y="1404.59" font-size="25" text-anchor="end">1</text>
<text class="ser" x="520" y="1365.98" font-size="25" text-anchor="end">2</text>
<text class="ser" x="520" y="1327.37" font-size="25" text-anchor="end">3</text>
<text class="ser" x="520" y="1288.76" font-size="25" text-anchor="end">4</text>
<text class="ser" x="520" y="1250.15" font-size="25" text-anchor="end">5</text>
<text class="ser" x="520" y="1211.54" font-size="25" text-anchor="end">6</text>
<text class="ser" x="520" y="1172.93" font-size="25" text-anchor="end">7</text>
<text class="ser" x="520" y="1134.32" font-size="25" text-anchor="end">8</text>
<text class="ser" x="492.2" y="1299.5" font-size="26.3" text-anchor="middle" transform="rotate(-90 492.2 1299.5)">WSSV copies (Log10/μg DNA)</text>
<rect x="556.65" y="1233.95" width="38.2" height="200.4" fill="#fff" stroke="#000" stroke-width="1.7"/>
<rect x="618.05" y="1253.65" width="37.7" height="180.7" fill="#828282" stroke="#000" stroke-width="1.7"/>
<rect x="679.45" y="1217.05" width="37.5" height="217.3" fill="#000" stroke="#000" stroke-width="1.7"/>
<rect x="740.4" y="1200.6" width="37.8" height="233.8" fill="url(#hat)" stroke="#262626" stroke-width="1.6"/>
<line x1="575.5" y1="1227.8" x2="575.5" y2="1240" stroke="#000" stroke-width="1.6"/>
<line x1="571.5" y1="1227.8" x2="579.5" y2="1227.8" stroke="#000" stroke-width="1.6"/>
<line x1="571.5" y1="1240" x2="579.5" y2="1240" stroke="#000" stroke-width="1.6"/>
<line x1="636.8" y1="1249.3" x2="636.8" y2="1257.9" stroke="#000" stroke-width="1.6"/>
<line x1="632.8" y1="1249.3" x2="640.8" y2="1249.3" stroke="#000" stroke-width="1.6"/>
<line x1="632.8" y1="1257.9" x2="640.8" y2="1257.9" stroke="#000" stroke-width="1.6"/>
<line x1="698.1" y1="1211.3" x2="698.1" y2="1217" stroke="#000" stroke-width="1.6"/>
<line x1="694.1" y1="1211.3" x2="702.1" y2="1211.3" stroke="#000" stroke-width="1.6"/>
<line x1="759.4" y1="1194.4" x2="759.4" y2="1206.6" stroke="#000" stroke-width="1.6"/>
<line x1="755.4" y1="1194.4" x2="763.4" y2="1194.4" stroke="#000" stroke-width="1.6"/>
<line x1="755.4" y1="1206.6" x2="763.4" y2="1206.6" stroke="#000" stroke-width="1.6"/>
<path d="M576.2 1207 V1201.6 H633.5 V1207" fill="none" stroke="#000" stroke-width="2.7" stroke-linejoin="round"/>
<path d="M641.4 1207 V1201.6 H697.3 V1207" fill="none" stroke="#000" stroke-width="2.7" stroke-linejoin="round"/>
<path d="M641.4 1171.9 V1165.4 H759.7 V1171.9" fill="none" stroke="#000" stroke-width="2.7" stroke-linejoin="round"/>
<text class="sr" x="587" y="1202.44" font-size="28" letter-spacing="0.5">***</text>
<text class="sr" x="649.7" y="1202.44" font-size="28" letter-spacing="0.5">***</text>
<text class="sr" x="678.4" y="1167.44" font-size="28" letter-spacing="0.5">***</text>
<text class="ser" x="585" y="1450" font-size="25.8" text-anchor="end" transform="rotate(-45 585 1450)">Saline+WSSV</text>
<text class="ser" x="648.5" y="1450.8" font-size="25.8" text-anchor="end" transform="rotate(-45 648.5 1450.8)">GFP dsRNA+WSSV</text>
<text class="ser" x="713.8" y="1450" font-size="25.8" text-anchor="end" transform="rotate(-45 713.8 1450)">LvSpr dsRNA+WSSV</text>
<text class="ser" x="770.5" y="1450.8" font-size="25.8" text-anchor="end" transform="rotate(-45 770.5 1450.8)">LvNos dsRNA+WSSV</text>
<text class="san" font-size="33.14" stroke="#000" stroke-width="0.7" stroke-linejoin="miter" transform="translate(853.61 1091.35) scale(0.9509 1)">H</text>
<line x1="975" y1="1145.2" x2="975" y2="1532.3" stroke="#484848" stroke-width="1.5"/>
<line x1="974.3" y1="1531.6" x2="1644.4" y2="1531.6" stroke="#484848" stroke-width="1.5"/>
<line x1="955.4" y1="1512.1" x2="975" y2="1512.1" stroke="#484848" stroke-width="1.5"/>
<text class="ser" x="955" y="1524.6" font-size="32" text-anchor="end">0.0</text>
<line x1="955.4" y1="1440.76" x2="975" y2="1440.76" stroke="#484848" stroke-width="1.5"/>
<text class="ser" x="955" y="1453.26" font-size="32" text-anchor="end">0.2</text>
<line x1="955.4" y1="1369.42" x2="975" y2="1369.42" stroke="#484848" stroke-width="1.5"/>
<text class="ser" x="955" y="1381.92" font-size="32" text-anchor="end">0.4</text>
<line x1="955.4" y1="1298.08" x2="975" y2="1298.08" stroke="#484848" stroke-width="1.5"/>
<text class="ser" x="955" y="1310.58" font-size="32" text-anchor="end">0.6</text>
<line x1="955.4" y1="1226.74" x2="975" y2="1226.74" stroke="#484848" stroke-width="1.5"/>
<text class="ser" x="955" y="1239.24" font-size="32" text-anchor="end">0.8</text>
<line x1="955.4" y1="1155.4" x2="975" y2="1155.4" stroke="#484848" stroke-width="1.5"/>
<text class="ser" x="955" y="1167.9" font-size="32" text-anchor="end">1.0</text>
<line x1="1009" y1="1531.6" x2="1009" y2="1551.5" stroke="#484848" stroke-width="1.5"/>
<text class="ser" x="1009" y="1579.6" font-size="31.5" text-anchor="middle">0</text>
<line x1="1162.4" y1="1531.6" x2="1162.4" y2="1551.5" stroke="#484848" stroke-width="1.5"/>
<text class="ser" x="1162.4" y="1579.6" font-size="31.5" text-anchor="middle">2</text>
<line x1="1315.8" y1="1531.6" x2="1315.8" y2="1551.5" stroke="#484848" stroke-width="1.5"/>
<text class="ser" x="1315.8" y="1579.6" font-size="31.5" text-anchor="middle">4</text>
<line x1="1469.2" y1="1531.6" x2="1469.2" y2="1551.5" stroke="#484848" stroke-width="1.5"/>
<text class="ser" x="1469.2" y="1579.6" font-size="31.5" text-anchor="middle">6</text>
<line x1="1622.6" y1="1531.6" x2="1622.6" y2="1551.5" stroke="#484848" stroke-width="1.5"/>
<text class="ser" x="1622.6" y="1579.6" font-size="31.5" text-anchor="middle">8</text>
<text class="ser" x="1303.4" y="1623.5" font-size="43.05" text-anchor="middle">Days post infection</text>
<text class="ser" x="891.7" y="1340.3" font-size="43.1" text-anchor="middle" transform="rotate(-90 891.7 1340.3)">Cumulative survival</text>
<path d="M1009 1155.4 H1162.4 V1161.46 H1315.8 V1167.17 H1622.6 V1171.45" fill="none" stroke="#9b9b9b" stroke-width="3"/>
<path d="M1162.4 1155.4 V1167.17 H1239.1 V1202.84 H1315.8 V1238.51 H1392.5 V1280.24 H1469.2 V1298.08 H1545.9 V1309.85 H1622.6 V1326.62" fill="none" stroke="#000" stroke-width="3.25" stroke-dasharray="2.5 1.9"/>
<path d="M1085.7 1155.4 V1161.46 H1162.4 V1185.01 H1239.1 V1262.41 H1315.8 V1357.65 H1392.5 V1405.09 H1469.2 V1440.76 H1545.9 V1458.59 H1622.6 V1469.3" fill="none" stroke="#000" stroke-width="3.25" stroke-dasharray="2.9 5.16"/>
<path d="M1085.7 1155.4 V1173.23 H1162.4 V1220.68 H1239.1 V1298.08 H1315.8 V1405.09 H1392.5 V1464.66 H1469.2 V1506.04 H1545.9 V1512.1" fill="none" stroke="#000" stroke-width="3.25" stroke-dasharray="9.4 1.7 2.1 1.9 2.1 1.9 2.1 1.5"/>
<path d="M1009 1155.4 H1162.4 V1202.84 H1239.1 V1244.57 H1315.8 V1262.41 H1392.5 V1304.14 H1469.2 V1333.75 H1545.9 V1357.65 H1622.6 V1381.19" fill="none" stroke="#000" stroke-width="3.45"/>
<line x1="1619.6" y1="1172.16" x2="1625.6" y2="1172.16" stroke="#888" stroke-width="1"/>
<line x1="1622.6" y1="1169.16" x2="1622.6" y2="1175.16" stroke="#888" stroke-width="1"/>
<line x1="1619.6" y1="1326.62" x2="1625.6" y2="1326.62" stroke="#888" stroke-width="1"/>
<line x1="1622.6" y1="1323.62" x2="1622.6" y2="1329.62" stroke="#888" stroke-width="1"/>
<line x1="1619.6" y1="1381.9" x2="1625.6" y2="1381.9" stroke="#222" stroke-width="1"/>
<line x1="1622.6" y1="1378.9" x2="1622.6" y2="1384.9" stroke="#222" stroke-width="1"/>
<line x1="1619.6" y1="1471.08" x2="1625.6" y2="1471.08" stroke="#666" stroke-width="1"/>
<line x1="1622.6" y1="1468.08" x2="1622.6" y2="1474.08" stroke="#666" stroke-width="1"/>
<line x1="990.9" y1="1363.4" x2="1028.1" y2="1363.4" stroke="#9b9b9b" stroke-width="3.9"/>
<line x1="990.9" y1="1396" x2="1028.1" y2="1396" stroke="#000" stroke-width="4.1"/>
<line x1="991.2" y1="1433.3" x2="1028.5" y2="1433.3" stroke="#000" stroke-width="3.8" stroke-dasharray="3.9 3.4"/>
<line x1="993.4" y1="1466.3" x2="1028.5" y2="1466.3" stroke="#000" stroke-width="3.9" stroke-dasharray="4.2 9.2"/>
<line x1="992.3" y1="1496.6" x2="1028.1" y2="1496.6" stroke="#000" stroke-width="4" stroke-dasharray="2.8 3.1 2.8 3.1 2.8 2.2 17.8 4"/>
<text class="ser" x="1037.7" y="1379.9" font-size="26.85">Saline</text>
<text class="ser" x="1037.7" y="1412" font-size="26.85">Saline + WSSV</text>
<text class="ser" x="1037.7" y="1444.8" font-size="26.85">GFP dsRNA + WSSV</text>
<text class="ser" x="1037.7" y="1476.8" font-size="26.85">LvSpr dsRNA + WSSV</text>
<text class="ser" x="1037.7" y="1508.9" font-size="26.85">LvNos dsRNA + WSSV</text>
<path d="M1320.8 1430.6 H1326.5 V1460 H1319.7" fill="none" stroke="#000" stroke-width="2.9" stroke-linejoin="round" stroke-linecap="round"/>
<path d="M1320.8 1467.2 H1326 V1496 H1319.7" fill="none" stroke="#000" stroke-width="2.9" stroke-linejoin="round" stroke-linecap="round"/>
<path d="M1349 1430.6 H1354.3 V1496 H1347.8" fill="none" stroke="#000" stroke-width="2.9" stroke-linejoin="round" stroke-linecap="round"/>
<text class="sr" font-size="28" x="1329.7 1329.7 1329.7" y="1440.44 1452.04 1465.64">***</text>
<text class="sr" font-size="28" x="1329.7 1329.7" y="1483.94 1498.14">**</text>
<text class="sr" font-size="28" x="1360.2 1360.2 1360.2" y="1454.94 1471.74 1486.54">***</text>
</svg>
</body>
</html>
